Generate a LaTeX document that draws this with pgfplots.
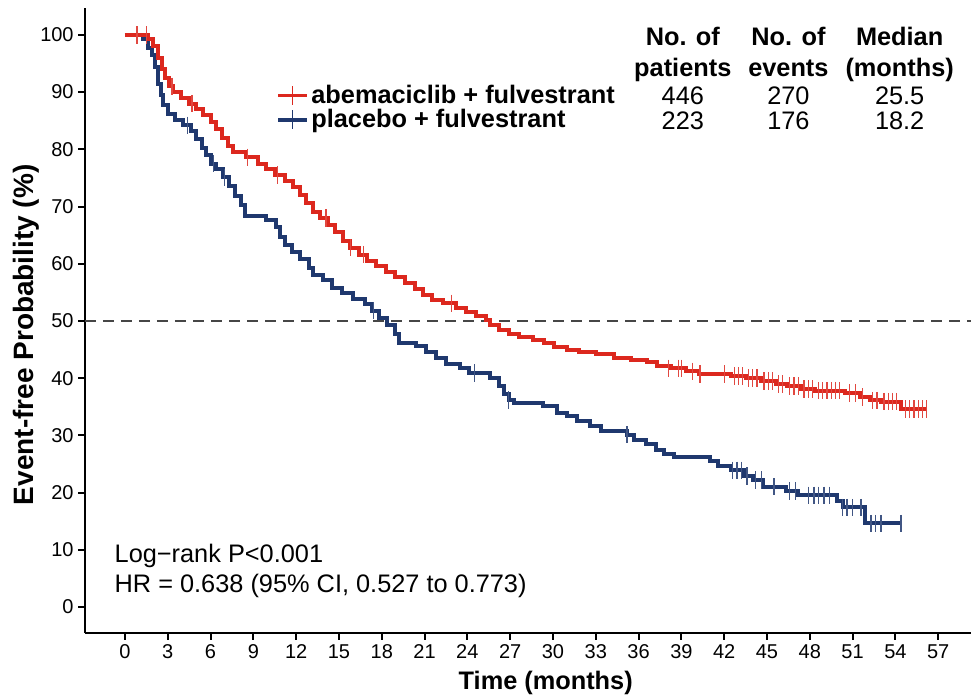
\documentclass[border=0pt]{standalone}
\usepackage{fontspec}
\setmainfont{Liberation Sans}
\usepackage{pgfplots}
\usepackage{pgfplotstable}
\pgfplotsset{compat=1.18}
\definecolor{kmred}{RGB}{220,40,30}
\definecolor{kmblue}{RGB}{31,56,110}

% step curves: time (months), survival (%) after the step
\pgfplotstableread{
t v
0 100
1.6 99.2
2.0 98
2.3 96
2.6 94
2.8 92.5
3.1 91
3.4 90
3.9 89
4.5 88
5.0 87
5.5 86
6.0 84.8
6.4 83.5
6.8 82
7.2 80.5
7.6 79.5
8.5 78.6
9.3 77.5
9.9 76.5
10.5 75.5
11.2 74.5
11.8 73.4
12.3 72
12.7 70.6
13.2 69
13.7 68
14.2 66.8
14.7 65.5
15.3 64
15.8 62.8
16.4 61.6
17.0 60.5
17.6 59.6
18.3 58.6
18.9 57.6
19.6 56.6
20.3 55.6
20.9 54.6
21.5 53.7
22.3 53.1
23.2 52.3
23.9 51.5
24.6 50.8
25.3 50.2
25.6 49.3
26.2 48.5
26.9 47.8
27.6 47.2
28.6 46.7
29.4 46.1
30.1 45.5
31.0 45.0
31.8 44.6
33.0 44.2
34.3 43.6
35.5 43.2
36.6 42.8
37.3 42.2
38.3 41.7
39.3 41.2
40.2 40.7
42.5 40.4
43.5 40.0
44.6 39.5
45.6 39.0
46.4 38.6
47.4 38.1
48.4 37.8
50.5 37.4
51.5 36.7
52.2 36.1
53.0 35.9
54.4 34.6
56.2 34.6
}\abema

\pgfplotstableread{
t v
0 100
1.3 99.3
1.6 97.7
1.9 96.5
2.1 94.3
2.3 91.5
2.5 89.5
2.7 87.8
3.0 86.2
3.5 85.2
4.1 84.2
4.6 83.2
5.0 81.8
5.4 80.3
5.7 79.0
6.0 77.5
6.4 76.5
6.9 75.1
7.3 73.5
7.7 71.8
8.1 70.2
8.4 68.4
9.9 67.6
10.6 66.5
10.9 64.6
11.2 63.2
11.7 62.1
12.3 60.9
12.9 59.2
13.2 58.0
13.9 57.2
14.5 55.8
15.2 54.8
16.0 53.8
16.8 53.0
17.3 51.8
17.8 50.5
18.4 49.3
18.9 47.8
19.2 46.2
20.4 45.6
21.1 44.6
21.8 43.6
22.5 42.5
23.5 41.7
24.1 40.9
25.6 40.0
26.2 38.6
26.6 37.3
26.9 36.2
27.3 35.6
29.3 35.1
30.3 33.9
31.0 33.3
31.7 32.5
32.6 31.6
33.4 30.8
35.2 30.1
35.7 29.2
36.5 28.4
37.2 27.4
37.8 26.7
38.5 26.2
41.0 25.5
41.6 24.7
42.5 23.9
43.4 22.9
44.0 22.2
44.7 21.0
46.3 20.3
47.2 19.5
49.9 18.6
50.3 17.4
51.9 14.6
54.4 14.6
}\placebo

% censored observations
\pgfplotstableread{
t v
0.85 100
1.5 100
3.3 91
4.7 88
8.6 78.6
10.7 75.5
14.1 68
15.8 62.8
16.7 61.6
22.9 53.1
38.1 41.7
38.8 41.7
39.0 41.7
39.8 41.2
40.3 40.7
42.0 40.7
42.7 40.4
43.0 40.4
43.3 40.4
43.7 40.0
44.0 40.0
44.3 40.0
44.8 39.5
45.1 39.5
45.4 39.5
45.8 39.0
46.1 39.0
46.6 38.6
46.9 38.6
47.2 38.6
47.6 38.1
47.9 38.1
48.2 38.1
48.6 37.8
48.9 37.8
49.2 37.8
49.5 37.8
49.8 37.8
50.1 37.8
50.8 37.4
51.2 37.4
51.7 36.7
52.4 36.1
52.7 36.1
53.2 35.9
53.5 35.9
53.8 35.9
54.1 35.9
54.7 34.6
55.0 34.6
55.3 34.6
55.6 34.6
55.9 34.6
56.2 34.6
}\abemacens

\pgfplotstableread{
t v
4.4 84.2
6.2 77.5
7.0 75.1
17.4 51.8
24.5 40.9
26.9 36.2
35.2 30.1
42.6 23.9
42.9 23.9
43.2 23.9
43.6 22.9
44.2 22.2
44.6 22.2
45.5 21.0
46.6 20.3
47.0 20.3
47.9 19.5
48.3 19.5
48.6 19.5
49.0 19.5
49.4 19.5
50.3 17.4
50.6 17.4
51.0 17.4
51.6 17.4
52.3 14.6
52.6 14.6
53.0 14.6
54.4 14.6
}\placebocens

\begin{document}
\begin{tikzpicture}
\path[use as bounding box] (-63.75pt,-47.25pt) rectangle (664.5pt,474.75pt);
\begin{axis}[
    at={(0pt,0pt)}, anchor=south west,
    scale only axis,
    width=664.5pt, height=468.75pt,
    xmin=-2.8, xmax=59.3,
    ymin=-4.55, ymax=104.7,
    axis lines*=left,
    axis line style={line width=1.5pt},
    xtick={0,3,...,57},
    ytick={0,10,...,100},
    tick align=outside,
    major tick length=5pt,
    tick style={line width=1.5pt, black},
    tick label style={font=\fontsize{15}{17}\selectfont},
    /pgf/number format/assume math mode=true,
    xlabel={Time (months)},
    ylabel={Event-free Probability (\%)},
    label style={font=\bfseries\fontsize{19}{22}\selectfont},
    xlabel style={at={([yshift=-37.5pt]axis description cs:0.52,0)}, anchor=center},
    ylabel style={at={([xshift=-44pt]axis description cs:0,0.477)}, anchor=center,
        font=\bfseries\fontsize{21}{24}\selectfont},
    clip=false,
    legend style={at={(0.2156,0.88)}, anchor=north west, draw=none, fill=none,
        font=\bfseries\fontsize{19}{22}\selectfont, inner sep=0pt, row sep=0pt,
        nodes={inner sep=1.5pt}},
    legend cell align=left,
    legend image code/.code={
        \draw[#1,mark=none] (0pt,0pt) -- (22pt,0pt);
        \draw[#1,only marks] plot coordinates {(11pt,0pt)};
    },
]
\addlegendimage{kmred, line width=2.8pt, mark=|, mark size=7pt, mark options={line width=1pt}}
\addlegendentry{abemaciclib + fulvestrant}
\addlegendimage{kmblue, line width=2.8pt, mark=|, mark size=7pt, mark options={line width=1pt}}
\addlegendentry{placebo + fulvestrant}

\addplot[forget plot, gray!55!black, line width=1.6pt, dash pattern=on 8pt off 5.5pt]
    coordinates {(-2.8,50) (59.3,50)};

\addplot[forget plot, const plot, kmblue, line width=3pt] table {\placebo};
\addplot[forget plot, only marks, mark=|, mark size=6.5pt, kmblue!85!white,
    mark options={line width=1pt}] table {\placebocens};
\addplot[forget plot, const plot, kmred, line width=3pt] table {\abema};
\addplot[forget plot, only marks, mark=|, mark size=6.5pt, kmred!85!white,
    mark options={line width=1pt}] table {\abemacens};

\node[anchor=west, align=left, font=\fontsize{19}{22.5}\selectfont]
    at (axis cs:-1.05,6.3) {Log−rank P<0.001\\HR = 0.638 (95\% CI, 0.527 to 0.773)};

\begin{scope}[every node/.style={anchor=base, font=\bfseries\fontsize{19}{22}\selectfont}]
\node at (axis cs:39.1,98.1) {No. of};
\node at (axis cs:39.1,92.7) {patients};
\node at (axis cs:46.5,98.1) {No. of};
\node at (axis cs:46.5,92.7) {events};
\node at (axis cs:54.3,98.1) {Median};
\node at (axis cs:54.3,92.7) {(months)};
\end{scope}
\begin{scope}[every node/.style={anchor=base, font=\fontsize{19}{22}\selectfont}]
\node at (axis cs:39.1,87.9) {446};
\node at (axis cs:46.5,87.9) {270};
\node at (axis cs:54.3,87.9) {25.5};
\node at (axis cs:39.1,83.5) {223};
\node at (axis cs:46.5,83.5) {176};
\node at (axis cs:54.3,83.5) {18.2};
\end{scope}
\end{axis}
\end{tikzpicture}
\end{document}
